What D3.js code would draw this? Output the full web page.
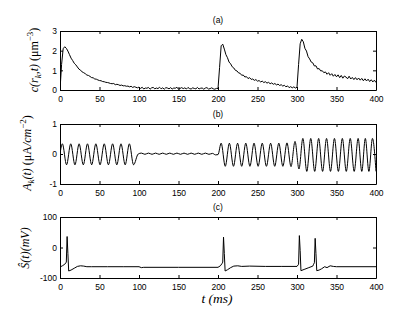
<!DOCTYPE html>
<html><head><meta charset="utf-8">
<script src="https://cdn.jsdelivr.net/npm/d3@7/dist/d3.min.js"></script>
<style>
body{margin:0;background:#fff;}
svg{display:block;}
.tick text{font-family:"Liberation Sans",Arial,sans-serif;font-size:8.5px;fill:#000;}
.lab{font-family:"Liberation Serif","Times New Roman",serif;fill:#000;}
</style></head>
<body>
<svg id="c" width="415" height="313"></svg>
<script>
// ---- data ----
const xTicks = [0,50,100,150,200,250,300,350,400];
const aTicks = [0,1,2,3];
const bTicks = [-1,0,1];
const cTicks = [-100,0,100];
const panelTitles = ["(a)","(b)","(c)"];

// panel (a): concentration, sampled every 2 ms from 0 to 400
const aVals = [
 0,1.3,2.1,2.2,2.12,1.98,1.8,1.62,1.5,1.36,1.28,1.17,1.06,1.01,0.92,0.88,0.83,0.76,0.74,0.69,
 0.63,0.62,0.56,0.55,0.51,0.48,0.47,0.43,0.42,0.39,0.38,0.36,0.33,0.32,0.33,0.27,0.29,0.27,0.23,0.25,
 0.21,0.22,0.19,0.2,0.16,0.19,0.13,0.17,0.14,0.11,0.15,
 0.08,0.14,0.05,0.1,0.09,0.13,0.04,0.11,0.13,0.06,0.1,0.07,0.14,0.06,0.11,0.04,0.12,0.1,0.06,0.12,
 0.05,0.1,0.09,0.14,0.04,0.08,0.12,0.07,0.11,0.05,0.13,0.07,0.05,0.11,0.08,0.06,0.13,0.05,0.09,0.1,
 0.04,0.1,0.12,0.05,0.07,0.11,0.06,0.04,0.08,
 0.07,1.15,2.25,2.33,2.08,1.8,1.64,1.42,1.33,1.18,1.12,1.0,0.97,0.87,0.85,0.75,0.76,0.66,0.68,0.58,
 0.63,0.54,0.56,0.49,0.53,0.45,0.48,0.41,0.45,0.38,0.42,0.35,0.39,0.32,0.36,0.29,0.33,0.26,0.3,0.23,
 0.27,0.2,0.24,0.16,0.21,0.12,0.17,0.11,0.16,0.1,
 0.14,1.3,2.35,2.58,2.45,2.12,1.98,1.7,1.58,1.42,1.38,1.22,1.23,1.07,1.09,0.97,0.98,0.88,0.92,0.8,
 0.88,0.75,0.83,0.7,0.79,0.67,0.77,0.63,0.74,0.6,0.71,0.66,0.57,0.7,0.56,0.64,0.53,0.63,0.52,0.61,
 0.5,0.59,0.47,0.57,0.46,0.55,0.43,0.52,0.41,0.5,0.38
];
const aTimes = aVals.map((v,i)=>i*2);

// panel (b): current density, turning points (time, value)
const bTimes = [0,3,8.3,13.6,18.9,24.2,29.5,34.8,40.1,45.4,50.7,56,61.3,66.6,71.9,77.2,82.5,87.8,93.1,99,
 103,107.5,112,116.5,121,125.5,130,134.5,139,143.5,148,152.5,157,161.5,166,170.5,175,179.5,184,188.5,193,197,200,
 204,209.2,214.4,219.6,224.8,230,235.2,240.4,245.6,250.8,256,261.3,266.6,271.8,277,282.1,287.3,292.4,297.5,302.5,
 307.4,312.4,317.4,322.4,327.4,332.4,337.4,342.4,347.4,352.4,357.4,362.4,367.4,372.4,377.4,382,386.5,391,395.5,400];
const bVals = [0,0.34,-0.36,0.34,-0.36,0.34,-0.36,0.34,-0.36,0.34,-0.36,0.34,-0.36,0.34,-0.36,0.34,-0.36,0.34,-0.36,0.0,
 0.03,-0.01,0.03,-0.01,0.03,-0.01,0.03,-0.01,0.03,-0.01,0.03,-0.01,0.03,-0.01,0.03,-0.01,0.03,-0.01,0.03,-0.01,0.02,-0.03,-0.02,
 0.36,-0.41,0.36,-0.41,0.36,-0.41,0.36,-0.41,0.36,-0.41,0.36,-0.41,0.36,-0.41,0.36,-0.41,0.37,-0.42,0.42,-0.5,
 0.52,-0.58,0.52,-0.58,0.52,-0.58,0.52,-0.58,0.52,-0.58,0.52,-0.58,0.52,-0.58,0.52,-0.58,0.52,-0.58,0.52,-0.58];

// panel (c): membrane potential (time, mV)
const cTimes = [0,3,6,8,9,10,11,14,18,22,26,30,34,40,60,80,100,103,106,150,200,203,205,206,207,208,209,212,216,220,225,230,240,260,280,
 300,302,303,304,305,310,315,320,321,322,323,324,325,328,331,335,338,342,346,350,400];
const cVals = [-64,-60,-55,-48,36,-20,-77,-74,-68,-62,-60,-61,-63,-63,-63,-63,-63,-66,-65,-65,-65,-60,-53,-48,34,-20,-77,-73,-66,-61,-60,-62,-61,-62,-62,
 -62,-55,39,-10,-76,-71,-66,-61,-55,-50,30,-20,-76,-74,-70,-63,-66,-60,-62,-63,-63];

// ---- drawing ----
const svg = d3.select("#c");
const x = d3.scaleLinear().domain([0,400]).range([60,376]);

const panels = [
 {top:31, bottom:90, dom:[0,3], ticks:aTicks, t:aTimes, v:aVals, curve:d3.curveLinear, title:panelTitles[0], titleY:23},
 {top:124, bottom:184, dom:[-1,1], ticks:bTicks, t:bTimes, v:bVals, curve:d3.curveMonotoneX, title:panelTitles[1], titleY:117},
 {top:217, bottom:278, dom:[-100,100], ticks:cTicks, t:cTimes, v:cVals, curve:d3.curveLinear, title:panelTitles[2], titleY:210}
];

panels.forEach((p,i)=>{
  const y = d3.scaleLinear().domain(p.dom).range([p.bottom,p.top]);
  const g = svg.append("g");
  const clipId = "clip"+i;
  svg.append("clipPath").attr("id",clipId).append("rect")
    .attr("x",60).attr("y",p.top).attr("width",316).attr("height",p.bottom-p.top);
  const line = d3.line().x((d,j)=>x(p.t[j])).y(d=>y(d)).curve(p.curve);
  g.append("path").datum(p.v).attr("d",line).attr("fill","none")
    .attr("stroke","#000").attr("stroke-width",1).attr("clip-path",`url(#${clipId})`);

  const ax = (a)=>a.tickSizeOuter(0);
  g.append("g").attr("transform",`translate(0,${p.bottom})`)
    .call(ax(d3.axisBottom(x).tickValues(xTicks).tickSizeInner(-3).tickPadding(6).tickFormat(d3.format("d"))));
  g.append("g").attr("transform",`translate(0,${p.top})`)
    .call(ax(d3.axisTop(x).tickValues(xTicks).tickSizeInner(-3).tickFormat("")));
  g.append("g").attr("transform",`translate(60,0)`)
    .call(ax(d3.axisLeft(y).tickValues(p.ticks).tickSizeInner(-3).tickPadding(3).tickFormat(d=>String(d))));
  g.append("g").attr("transform",`translate(376,0)`)
    .call(ax(d3.axisRight(y).tickValues(p.ticks).tickSizeInner(-3).tickFormat("")));
  g.selectAll(".domain").attr("stroke","#000").attr("stroke-width",1);
  g.selectAll(".tick line").attr("stroke","#000");

  svg.append("text").attr("x",218).attr("y",p.titleY).attr("text-anchor","middle")
    .style("font-family","Liberation Sans,Arial,sans-serif").style("font-size","8.5px").text(p.title);
});

// y labels
function ylab(xp, yp, size, parts){
  const t = svg.append("text").attr("class","lab")
    .attr("transform",`translate(${xp},${yp}) rotate(-90)`).attr("text-anchor","middle")
    .style("font-size",size+"px");
  parts.forEach(pt=>{
    const s = t.append("tspan").text(pt.s);
    if(pt.i) s.style("font-style","italic");
    if(pt.dy) s.attr("dy",pt.dy);
    if(pt.fs) s.style("font-size",pt.fs+"px");
  });
}
ylab(38, 60, 12, [
 {s:"c(r",i:1},{s:"k",i:1,dy:3,fs:9},{s:",t)",i:1,dy:-3},{s:" (μm"},{s:"−3",dy:-5,fs:9},{s:")",dy:5}
]);
ylab(31, 153, 12, [
 {s:"A",i:1},{s:"k",i:1,dy:3,fs:9},{s:"(t)",i:1,dy:-3},{s:" (μA"},{s:"/cm",i:1},{s:"−2",dy:-5,fs:9},{s:")",dy:5}
]);
ylab(29, 248, 12, [
 {s:"Ŝ(t)(mV)",i:1}
]);

// x label
svg.append("text").attr("class","lab").attr("x",217).attr("y",303).attr("text-anchor","middle")
  .style("font-size","13.5px").style("font-style","italic").text("t (ms)");
</script>
</body></html>
